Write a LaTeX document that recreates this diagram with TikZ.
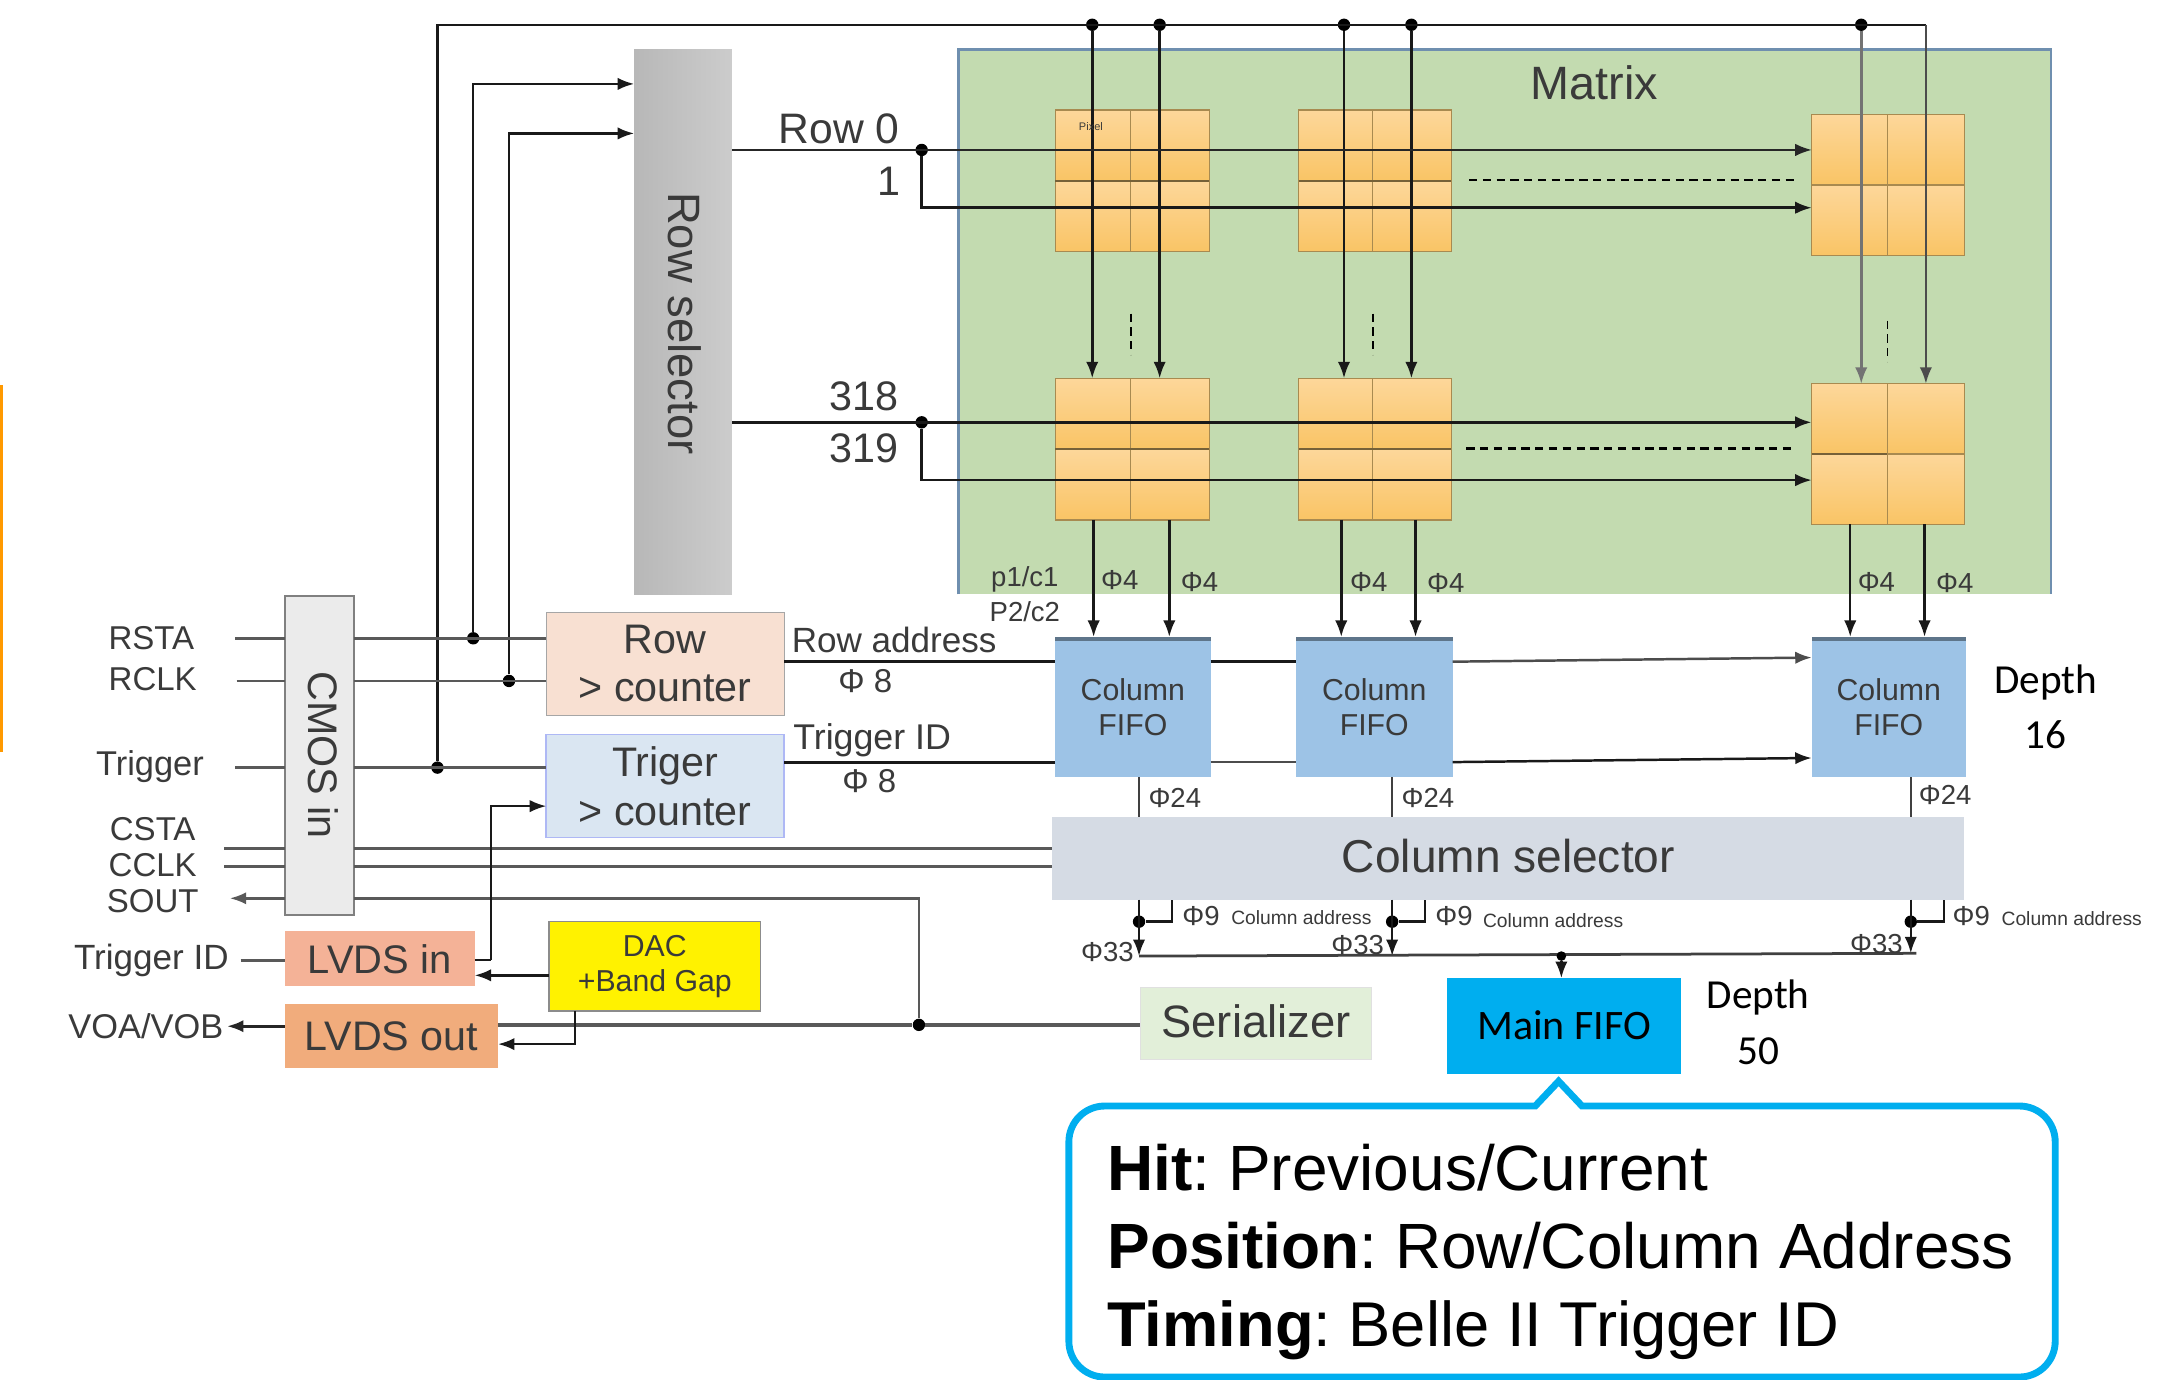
\documentclass[tikz,border=0pt]{standalone}
\usepackage{fontspec}
\setmainfont{Liberation Sans}
\newfontfamily\calib{Carlito}
\usetikzlibrary{arrows.meta}
\frenchspacing
\newcommand\fsz[2]{\fontsize{#1}{#2}\selectfont}
\newcommand\bx[7]{\node[bxbase,#6,minimum width={(#4-#2)*1pt},minimum height={(#5-#3)*1pt}] (#1) at ({(#2+#4)/2},{(#3+#5)/2}) {#7};}
\newcommand\cell[5]{\node[pixcell,minimum width={(#4-#2)*1pt},minimum height={(#5-#3)*1pt}] (#1) at ({(#2+#4)/2},{(#3+#5)/2}) {};}
\newcommand\pixblock[6]{%
 \cell{#1TL}{#2}{#5}{#3}{(#5+#6)/2}
 \cell{#1TR}{#3}{#5}{#4}{(#5+#6)/2}
 \cell{#1BL}{#2}{(#5+#6)/2}{#3}{#6}
 \cell{#1BR}{#3}{(#5+#6)/2}{#4}{#6}}
\definecolor{txt}{HTML}{3A3A3A}
\definecolor{callb}{HTML}{00AEEF}
\definecolor{matg}{HTML}{C3DBB0}
\definecolor{rowc}{HTML}{F8E0D2}
\definecolor{trgc}{HTML}{DAE6F2}
\definecolor{lvi}{HTML}{F4B297}
\definecolor{lvo}{HTML}{F1AC7C}
\definecolor{serc}{HTML}{E2EFD9}
\definecolor{fifc}{HTML}{9DC3E6}
\definecolor{csel}{HTML}{D5DBE4}
\definecolor{pixa}{HTML}{FDD79A}
\definecolor{pixb}{HTML}{F9C465}
\definecolor{pixl}{HTML}{A88A50}
\definecolor{matb}{HTML}{6F8FAF}
\tikzset{
 bxbase/.style={inner sep=0pt,outer sep=0pt,align=center,text=txt},
 pixcell/.style={inner sep=0pt,outer sep=0pt,draw=pixl,line width=.8pt,top color=pixa,bottom color=pixb},
 pixmid/.style={draw=pixl!70!black,line width=1.8pt},
 lab/.style={inner sep=0pt,outer sep=0pt,text=txt,font=\fsz{24}{29}},
 labm/.style={lab,font=\fsz{20}{24}},
 labs/.style={lab,font=\fsz{14}{17}},
 labc/.style={inner sep=0pt,outer sep=0pt,text=black,font=\calib\fsz{30}{36}},
 wire/.style={draw=black!65,line width=2pt},
 bk/.style={draw=black!90,line width=1.8pt},
 tip/.style={-{Latex[length=12pt,width=9pt]}},
 dot/.style={circle,fill=black,inner sep=0pt,minimum size=9pt},
 dsh/.style={draw=black,line width=1.8pt,dash pattern=on 6pt off 4pt},
 fifotop/.style={fill=fifc!60!black},
}
\begin{document}
\begin{tikzpicture}[x=1pt,y=-1pt]
\useasboundingbox (0,0) rectangle (1568,1003.1);
\fill[white] (0,0) rectangle (1568,1003.1);
\fill[orange!80!yellow] (0,280) rectangle (2,547);

% main blocks
\bx{matrix}{697}{36}{1491}{432}{fill=matg}{}
\draw[matb,line width=2pt] (matrix.south west) -- (matrix.north west) -- (matrix.north east) -- (matrix.south east);
\bx{rowsel}{461}{36}{532}{432}{left color=black!28,right color=black!20}{}
\bx{cmos}{207}{433}{257}{665}{fill=black!8,draw=black!50,line width=1.5pt}{}
\bx{rowcnt}{397}{445}{570}{520}{fill=rowc,draw=black!35,line width=.8pt,font=\fsz{30}{35}}{Row\\> counter}
\bx{trigcnt}{397}{534}{570}{609}{fill=trgc,draw=trgc!80!blue,line width=1pt,font=\fsz{30}{35}}{Triger\\> counter}
\bx{lvdsin}{207}{677}{345}{717}{fill=lvi,font=\fsz{29}{34}}{LVDS in}
\bx{lvdsout}{207}{730}{362}{776}{fill=lvo,font=\fsz{30}{35}}{LVDS out}
\bx{dac}{399}{670}{553}{735}{fill=yellow,draw=black!45,line width=1pt,font=\fsz{22}{25}}{DAC\\+Band Gap}
\bx{ser}{829}{718}{997}{770}{fill=serc,draw=black!12,line width=1pt,font=\fsz{33}{38}}{\raisebox{3pt}{Serializer}}
\bx{fifoa}{767}{463}{880}{565}{fill=fifc,font=\fsz{22}{25}}{Column\\FIFO}
\bx{fifob}{942}{463}{1056}{565}{fill=fifc,font=\fsz{22}{25}}{Column\\FIFO}
\bx{fifoc}{1317}{463}{1429}{565}{fill=fifc,font=\fsz{22}{25}}{Column\\FIFO}
\fill[fifotop] (fifoa.north west) rectangle ([yshift=-3pt]fifoa.north east);
\fill[fifotop] (fifob.north west) rectangle ([yshift=-3pt]fifob.north east);
\fill[fifotop] (fifoc.north west) rectangle ([yshift=-3pt]fifoc.north east);
\bx{colsel}{765}{594}{1428}{654}{fill=csel,font=\fsz{33.5}{38}}{\raisebox{4pt}{Column selector}}
\bx{mainfifo}{1052}{711}{1222}{781}{fill=callb,text=black,font=\calib\fsz{30.5}{36}}{\raisebox{2pt}{Main FIFO}}

% pixel blocks
\pixblock{ua}{767}{822}{879}{80}{183}
\pixblock{ub}{944}{998}{1055}{80}{183}
\pixblock{uc}{1317}{1372}{1428}{83}{186}
\pixblock{la}{767}{822}{879}{275}{378}
\pixblock{lb}{944}{998}{1055}{275}{378}
\pixblock{lc}{1317}{1372}{1428}{279}{381}
\draw[pixmid] (uaTL.south west) -- (uaTR.south east);
\draw[pixmid] (ubTL.south west) -- (ubTR.south east);
\draw[pixmid] (laTL.south west) -- (laTR.south east);
\draw[pixmid] (lbTL.south west) -- (lbTR.south east);
\draw[pixmid,line width=1.2pt] (lcTL.south west) -- (lcTL.south east);

% junction points
\node[dot] (ja) at (794,18) {};
\node[dot] (jb) at (843,18) {};
\node[dot] (jc) at (977,18) {};
\node[dot] (jd) at (1026,18) {};
\node[dot] (je) at (1353,18) {};
\coordinate (jf) at (1400,18);
\coordinate (tl) at (318,18);
\node[dot] (dtrig) at (318,558) {};
\node[dot] (drsta) at (344,464) {};
\node[dot] (drclk) at (370,495) {};
\node[dot] (dr0) at (670,109) {};
\node[dot] (dr318) at (670,307) {};
\node[dot] (dsout) at (668,745) {};

% top bus and column lines
\draw[bk] (dtrig) -- (tl) -- (jf);
\draw[bk,tip] (ja) -- (ja |- laTL.north);
\draw[bk,tip] (jb) -- (jb |- laTR.north);
\draw[bk,tip] (jc) -- (jc |- lbTL.north);
\draw[bk,tip] (jd) -- (jd |- lbTR.north);
\draw[bk,draw=black!55,tip] (je) -- (je |- lcTL.north);
\draw[bk,draw=black!70,tip] (jf) -- (jf |- lcTR.north);

% row selector inputs
\coordinate (rsa) at (461,61);
\coordinate (rsb) at (461,97);
\draw[bk,tip] (drsta) -- (drsta |- rsa) -- (rsa);
\draw[bk,tip] (drclk) -- (drclk |- rsb) -- (rsb);

% row lines
\coordinate (r0a) at (532,109);
\coordinate (r1) at (670,151);
\coordinate (r318a) at (532,307);
\coordinate (r319) at (670,349);
\draw[bk,line width=1.3pt,draw=black!85,tip] (r0a) -- (ucTL.west |- dr0);
\draw[bk,tip] (dr0) -- (r1) -- (ucTL.west |- r1);
\draw[bk,line width=2.2pt,tip] (r318a) -- (lcTL.west |- dr318);
\draw[bk,tip] (dr318) -- (r319) -- (lcTL.west |- r319);

% dashes
\coordinate (da1) at (1068,131); \coordinate (da2) at (1305,131);
\coordinate (db1) at (1066,326); \coordinate (db2) at (1303,326);
\draw[dsh] (da1) -- (da2);
\draw[dsh] (db1) -- (db2);
\coordinate (va1) at (822,228); \coordinate (va2) at (822,258);
\coordinate (vb1) at (998,228); \coordinate (vb2) at (998,258);
\coordinate (vc1) at (1372,233); \coordinate (vc2) at (1372,263);
\draw[dsh,line width=1.3pt] (va1) -- (va2);
\draw[dsh,line width=1.3pt] (vb1) -- (vb2);
\draw[dsh,line width=1.1pt] (vc1) -- (vc2);

% pixel outputs to FIFOs
\coordinate (pa) at (795,378); \coordinate (pb) at (850,378);
\coordinate (pc) at (975,378); \coordinate (pd) at (1029,378);
\coordinate (pe) at (1345,381); \coordinate (pf) at (1399,381);
\draw[bk,tip] (pa) -- (pa |- fifoa.north);
\draw[bk,tip] (pb) -- (pb |- fifoa.north);
\draw[bk,tip] (pc) -- (pc |- fifob.north);
\draw[bk,tip] (pd) -- (pd |- fifob.north);
\draw[bk,tip] (pe) -- (pe |- fifoc.north);
\draw[bk,tip] (pf) -- (pf |- fifoc.north);

% counters to FIFOs
\coordinate (ra) at (570,481); \coordinate (rb) at (1317,478);
\coordinate (ta) at (570,554); \coordinate (tb) at (1317,551);
\draw[bk,line width=2.2pt] (ra) -- (fifoa.west |- ra);
\draw[bk] (fifoa.east |- ra) -- (fifob.west |- ra);
\draw[bk,draw=black!70,tip] (fifob.east |- ra) -- (rb);
\draw[bk,line width=2.2pt] (ta) -- (fifoa.west |- ta);
\draw[bk,draw=black!70] (fifoa.east |- ta) -- (fifob.west |- ta);
\draw[bk,tip] (fifob.east |- ta) -- (tb);

% FIFO to column selector
\coordinate (ca) at (828,565); \coordinate (cb) at (1012,565); \coordinate (cc) at (1389,565);
\draw[bk,draw=black!75] (ca) -- (ca |- colsel.north);
\draw[bk,draw=black!75] (cb) -- (cb |- colsel.north);
\draw[bk,draw=black!75] (cc) -- (cc |- colsel.north);

% column selector outputs
\node[dot] (sa) at (828,670) {};
\node[dot] (sb) at (1012,670) {};
\node[dot] (sc) at (1389,670) {};
\coordinate (ba) at (828,695); \coordinate (bb) at (1012,695); \coordinate (bc) at (1393,693);
\coordinate (ua) at (852,654); \coordinate (ub) at (1036,654); \coordinate (uc) at (1413,654);
\draw[bk,tip] (sa.center |- colsel.south) -- (ba);
\draw[bk,tip] (sb.center |- colsel.south) -- (bb);
\draw[bk,tip] (sc.center |- colsel.south) -- (sc.center |- bc);
\draw[bk] (sa) -| (ua);
\draw[bk] (sb) -| (ub);
\draw[bk] (sc) -| (uc);
\draw[bk,line width=2pt,draw=black!75] (ba) -- (bc);
\node[dot,minimum size=7pt] (mf) at (1135,695) {};
\draw[bk,tip] (mf) -- (mf |- mainfifo.north);

% CMOS in signals
\coordinate (irsta) at (171,464);
\coordinate (irclk) at (172,495);
\coordinate (itrig) at (171,558);
\coordinate (icsta) at (163,617);
\coordinate (icclk) at (163,630);
\coordinate (isout) at (167,653);
\coordinate (itid) at (175,698);
\coordinate (ivoa) at (165,746);
\draw[wire] (irsta) -- (cmos.west |- irsta);
\draw[wire] (cmos.east |- irsta) -- (rowcnt.west |- irsta);
\draw[wire] (irclk) -- (cmos.west |- irclk);
\draw[wire] (cmos.east |- irclk) -- (rowcnt.west |- irclk);
\draw[wire] (itrig) -- (cmos.west |- itrig);
\draw[wire] (cmos.east |- itrig) -- (trigcnt.west |- itrig);
\draw[wire] (icsta) -- (cmos.west |- icsta);
\draw[wire] (cmos.east |- icsta) -- (colsel.west |- icsta);
\draw[wire] (icclk) -- (cmos.west |- icclk);
\draw[wire] (cmos.east |- icclk) -- (colsel.west |- icclk);
\draw[wire,tip] (cmos.west |- isout) -- (isout);
\draw[wire] (cmos.east |- isout) -- (dsout |- isout) -- (dsout);
\draw[wire] (itid) -- (lvdsin.west |- itid);
\draw[bk,line width=2.2pt,draw=black!85,tip] (lvdsout.west |- ivoa) -- (ivoa);
\draw[wire,line width=2.6pt] (lvdsout.east |- dsout) -- (dsout) -- (ser.west |- dsout);

% LVDS and DAC
\coordinate (li) at (357,698);
\coordinate (la) at (357,586);
\coordinate (dl) at (399,709);
\coordinate (dd) at (418,735);
\coordinate (dm) at (418,759);
\draw[bk,line width=1.2pt] (lvdsin.east |- li) -- (li);
\draw[bk,line width=1.4pt,tip] (li) -- (la) -- (la -| trigcnt.west);
\draw[bk,tip] (dl) -- (lvdsin.east |- dl);
\draw[bk,tip] (dd) -- (dm) -- (lvdsout.east |- dm);

% labels
\node[lab,font=\fsz{33}{38},rotate=-90] (trs) at (498,235) {Row selector};
\node[lab,font=\fsz{30}{36},rotate=-90] (tcm) at (235,549) {CMOS in};
\node[lab,font=\fsz{34}{40}] (tmx) at (1159,60) {Matrix};
\node[lab,font=\fsz{8}{10}] (tpx) at (793,92) {Pixel};
\node[lab,font=\fsz{31}{36}] (tr0) at (610,94) {Row 0};
\node[lab,font=\fsz{30}{36}] (tr1) at (646,132) {1};
\node[lab,font=\fsz{30}{36}] (tr2) at (628,288) {318};
\node[lab,font=\fsz{30}{36}] (tr3) at (628,326) {319};
\node[labm] (tp1) at (745,421) {p1/c1};
\node[labm] (tp2) at (745,445) {P2/c2};
\node[labm] (ta1) at (814,422) {Φ4};
\node[labm] (ta2) at (872,423) {Φ4};
\node[labm] (ta3) at (995,423) {Φ4};
\node[labm] (ta4) at (1051,424) {Φ4};
\node[labm] (ta5) at (1364,423) {Φ4};
\node[labm] (ta6) at (1421,424) {Φ4};
\node[lab,font=\fsz{25.5}{30}] (tra) at (650,465) {Row address};
\node[lab] (trb) at (629,495) {Φ 8};
\node[lab,font=\fsz{26}{30}] (tta) at (634,538) {Trigger ID};
\node[lab] (ttb) at (632,568) {Φ 8};
\node[labm] (tb1) at (854,580) {Φ24};
\node[labm] (tb2) at (1038,580) {Φ24};
\node[labm] (tb3) at (1414,578) {Φ24};
\node[labm] (tc1) at (873,666) {Φ9};
\node[labm] (tc2) at (1057,666) {Φ9};
\node[labm] (tc3) at (1433,666) {Φ9};
\node[labs] (td1) at (946,667) {Column address};
\node[labs] (td2) at (1129,669) {Column address};
\node[labs] (td3) at (1506,668) {Column address};
\node[labm] (te1) at (805,692) {Φ33};
\node[labm] (te2) at (987,687) {Φ33};
\node[labm] (te3) at (1364,686) {Φ33};
\node[lab] (l1) at (110,464) {RSTA};
\node[lab] (l2) at (111,494) {RCLK};
\node[lab,font=\fsz{25}{30}] (l3) at (109,557) {Trigger};
\node[lab] (l4) at (111,603) {CSTA};
\node[lab] (l5) at (111,629) {CCLK};
\node[lab] (l6) at (111,655) {SOUT};
\node[lab,font=\fsz{25.5}{30}] (l7) at (110,698) {Trigger ID};
\node[lab,font=\fsz{25}{30}] (l8) at (106,746) {VOA/VOB};
\node[labc] (dp1) at (1487,496) {Depth};
\node[labc] (dp2) at (1487,534) {16};
\node[labc] (dp3) at (1278,725) {Depth};
\node[labc] (dp4) at (1278,764) {50};

% callout
\coordinate (pk) at (1133,786);
\draw[callb,line width=5pt,fill=white,rounded corners=26pt]
 (1000,804) [sharp corners] -- (1116,804) -- (pk) -- (1150,804) [rounded corners=26pt]
 -- (1494,804) -- (1494,1001) -- (777,1001) -- (777,804) -- cycle;
\node[inner sep=0pt,outer sep=0pt,anchor=west,align=left,text=black,font=\fsz{46.5}{56.5}] (call) at (805,910)
 {\textbf{Hit}: Previous/Current\\\textbf{Position}: Row/Column Address\\\fsz{46}{56.5}\textbf{Timing}: Belle II Trigger ID};
\end{tikzpicture}
\end{document}
